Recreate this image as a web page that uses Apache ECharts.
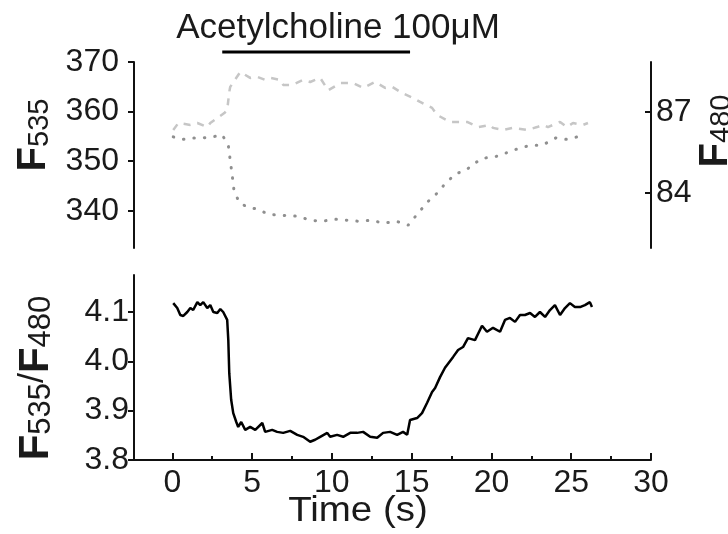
<!DOCTYPE html>
<html><head><meta charset="utf-8">
<script src="https://cdn.jsdelivr.net/npm/echarts@6/dist/echarts.min.js"></script>
<style>html,body{margin:0;padding:0;background:#fff}#c{width:728px;height:534px}</style>
</head><body><div id="c"></div>
<script>
// ---- data ----
const f535Time = [0.06,0.69,1.31,1.88,2.50,3.13,3.51,3.63,3.76,3.88,4.26,4.76,5.39,6.01,6.76,7.89,8.64,9.39,10.21,10.96,11.65,12.52,13.21,14.03,14.78,15.40,16.03,16.41,17.03,17.72,18.41,18.79,19.41,20.10,20.79,21.10,21.79,22.42,23.17,24.04,24.67,25.36,25.74];
const f535Values = [354.9,354.4,354.7,354.7,354.9,355.3,353.2,350.2,347.0,343.7,341.5,340.7,340.3,339.3,339.1,338.9,338.1,337.9,338.3,338.1,337.9,338.1,337.5,337.9,337.1,339.5,341.9,342.9,345.2,347.4,348.2,349.2,350.6,350.8,351.4,352.0,352.6,353.2,353.2,354.7,354.4,354.9,355.3];
const f480Time = [0.06,0.38,1.13,1.57,2.19,2.38,3.26,3.44,3.57,3.63,4.26,4.88,5.32,5.82,6.14,6.76,6.95,7.51,8.20,8.64,9.27,9.77,10.33,10.52,11.33,11.96,12.71,13.34,13.78,14.40,15.09,15.53,16.28,16.59,17.41,18.47,19.16,19.91,20.10,20.73,21.35,22.23,22.86,23.23,23.54,24.30,24.73,25.11,25.74,26.05];
const f480Values = [86.33,86.59,86.52,86.59,86.44,86.59,86.96,87.07,87.74,87.93,88.48,88.26,88.30,88.19,88.26,88.19,88.0,88.0,88.19,88.11,88.26,87.8,88.0,88.07,88.07,87.89,88.11,87.89,87.93,87.70,87.52,87.37,87.15,86.89,86.63,86.63,86.44,86.52,86.41,86.33,86.41,86.33,86.44,86.52,86.44,86.63,86.44,86.59,86.52,86.59];
const ratioTime = [0.06,0.31,0.50,0.69,0.94,1.13,1.31,1.57,1.75,1.94,2.19,2.38,2.57,2.82,3.01,3.19,3.44,3.51,3.57,3.69,3.82,4.01,4.13,4.32,4.57,4.88,5.20,5.64,5.82,6.26,6.57,6.95,7.39,7.83,8.20,8.64,8.95,9.27,9.71,9.89,10.33,10.71,11.15,11.58,11.96,12.40,12.84,13.21,13.65,14.09,14.46,14.72,14.90,15.34,15.65,15.97,16.28,16.47,16.78,17.09,17.60,17.91,18.22,18.53,18.97,19.41,19.72,20.10,20.54,20.85,21.16,21.48,21.79,22.10,22.42,22.73,23.04,23.36,23.67,23.98,24.30,24.61,24.92,25.23,25.55,25.86,26.17,26.30];
const ratioValues = [4.118,4.108,4.094,4.092,4.100,4.108,4.104,4.120,4.114,4.120,4.108,4.114,4.100,4.098,4.106,4.100,4.084,4.043,3.976,3.922,3.895,3.877,3.867,3.877,3.861,3.867,3.861,3.875,3.857,3.861,3.857,3.855,3.859,3.851,3.847,3.837,3.841,3.847,3.855,3.847,3.851,3.847,3.855,3.855,3.857,3.847,3.845,3.855,3.857,3.851,3.857,3.851,3.881,3.885,3.895,3.916,3.938,3.946,3.968,3.987,4.009,4.023,4.029,4.047,4.043,4.072,4.060,4.068,4.060,4.084,4.088,4.080,4.094,4.094,4.098,4.090,4.100,4.090,4.104,4.114,4.094,4.108,4.118,4.110,4.110,4.114,4.120,4.110];
const xTicks = [0,5,10,15,20,25,30];
const xMinorTicks = [0,2.5,5,7.5,10,12.5,15,17.5,20,22.5,25,27.5,30];
const f535Ticks = [340,350,360,370];
const f480Ticks = [84,87];
const ratioTicks = [3.8,3.9,4.0,4.1];
const stimulusTimes = [3.13,14.9];
const stimulusLabel = 'Acetylcholine 100μM';
const xTitle = 'Time (s)';

// ---- chart ----
const FONT = '"Liberation Sans", Arial, sans-serif';
const TXT = '#1a1a1a';
const zip = (a,b) => a.map((v,i) => [v,b[i]]);
const X_MIN = -2.4, X_MAX = 30;
const F535_MIN = 332.5, F535_MAX = 370;
const TICK_FS = 32;

const axisLine = {show:true, onZero:false, lineStyle:{color:'#111', width:2}};
const chart = echarts.init(document.getElementById('c'), null, {renderer:'canvas'});

const subTitle = (x, y, parts, fs, ss) => ({
  type:'text', x, y, rotation: Math.PI/2,
  style:{
    text: parts, align:'center', verticalAlign:'middle', fill:TXT,
    rich:{
      F:{fontSize:fs, fontWeight:'bold', fontFamily:FONT, lineHeight:fs, verticalAlign:'top', fill:TXT},
      S:{fontSize:ss, fontFamily:FONT, lineHeight:ss, verticalAlign:'bottom', padding:[Math.round(fs*0.5),0,0,0], fill:TXT},
      P:{fontSize:fs*0.85, fontFamily:FONT, lineHeight:fs, verticalAlign:'top', fill:TXT}
    }
  }
});

chart.setOption({
  animation:false,
  backgroundColor:'#fff',
  grid:[
    {left:134, right:77, top:62, height:186},
    {left:134, right:77, top:275, bottom:74}
  ],
  xAxis:[
    {type:'value', gridIndex:0, min:X_MIN, max:X_MAX, show:false},
    {type:'value', gridIndex:1, min:X_MIN, max:X_MAX, splitLine:{show:false},
      axisLine: axisLine,
      axisTick:{show:true, inside:true, length:4, customValues:xMinorTicks, lineStyle:{color:'#111', width:2}},
      axisLabel:{customValues:xTicks, fontSize:TICK_FS, fontFamily:FONT, color:TXT, margin:7}},
    {type:'value', gridIndex:1, min:X_MIN, max:X_MAX, splitLine:{show:false}, position:'bottom',
      axisLine:{show:false, onZero:false},
      axisTick:{show:true, inside:true, length:7, customValues:xTicks, lineStyle:{color:'#111', width:2}},
      axisLabel:{show:false}}
  ],
  yAxis:[
    {type:'value', gridIndex:0, position:'left', min:F535_MIN, max:F535_MAX, splitLine:{show:false},
      axisLine: axisLine,
      axisTick:{show:true, length:6, customValues:f535Ticks, lineStyle:{color:'#111', width:2}},
      axisLabel:{customValues:f535Ticks, fontSize:TICK_FS, fontFamily:FONT, color:TXT, margin:15}},
    {type:'value', gridIndex:0, position:'right', min:81.96, max:88.85, splitLine:{show:false},
      axisLine: axisLine,
      axisTick:{show:true, inside:true, length:6, customValues:f480Ticks, lineStyle:{color:'#111', width:2}},
      axisLabel:{customValues:f480Ticks, fontSize:TICK_FS, fontFamily:FONT, color:TXT, margin:5}},
    {type:'value', gridIndex:1, position:'left', min:3.8, max:4.175, splitLine:{show:false},
      axisLine: axisLine,
      axisTick:{show:true, length:6, customValues:ratioTicks, lineStyle:{color:'#111', width:2}},
      axisLabel:{customValues:ratioTicks, fontSize:TICK_FS, fontFamily:FONT, color:TXT, margin:5,
        formatter:v => v.toFixed(1)}}
  ],
  series:[
    {type:'line', xAxisIndex:0, yAxisIndex:1, data:zip(f480Time,f480Values), symbol:'none',
      lineStyle:{color:'#c6c6c6', width:2.5, type:[7,7]}},
    {type:'line', xAxisIndex:0, yAxisIndex:0, data:zip(f535Time,f535Values), symbol:'none',
      lineStyle:{color:'#8f8f8f', width:3, type:[0.5,10], cap:'round'}},
    {type:'line', xAxisIndex:0, yAxisIndex:0, clip:false, symbol:'none',
      data: stimulusTimes.map(t => [t, F535_MAX + 2]),
      lineStyle:{color:'#000', width:3}},
    {type:'line', xAxisIndex:1, yAxisIndex:2, data:zip(ratioTime,ratioValues), symbol:'none',
      lineStyle:{color:'#000', width:2.5}}
  ],
  graphic:[
    {type:'text', x:338, y:28, style:{text:stimulusLabel, align:'center', verticalAlign:'middle', fontSize:35, fontFamily:FONT, fill:TXT}},
    {type:'text', x:358, y:511, scaleX:1.1, style:{text:xTitle, align:'center', verticalAlign:'middle', fontSize:35, fontFamily:FONT, fill:TXT}},
    subTitle(34, 135, '{F|F}{S|535}', 40, 29),
    subTitle(36, 378, '{F|F}{S|535}{P|/}{F|F}{S|480}', 42, 31),
    subTitle(716, 131, '{F|F}{S|480}', 40, 29)
  ]
});
</script>
</body></html>
